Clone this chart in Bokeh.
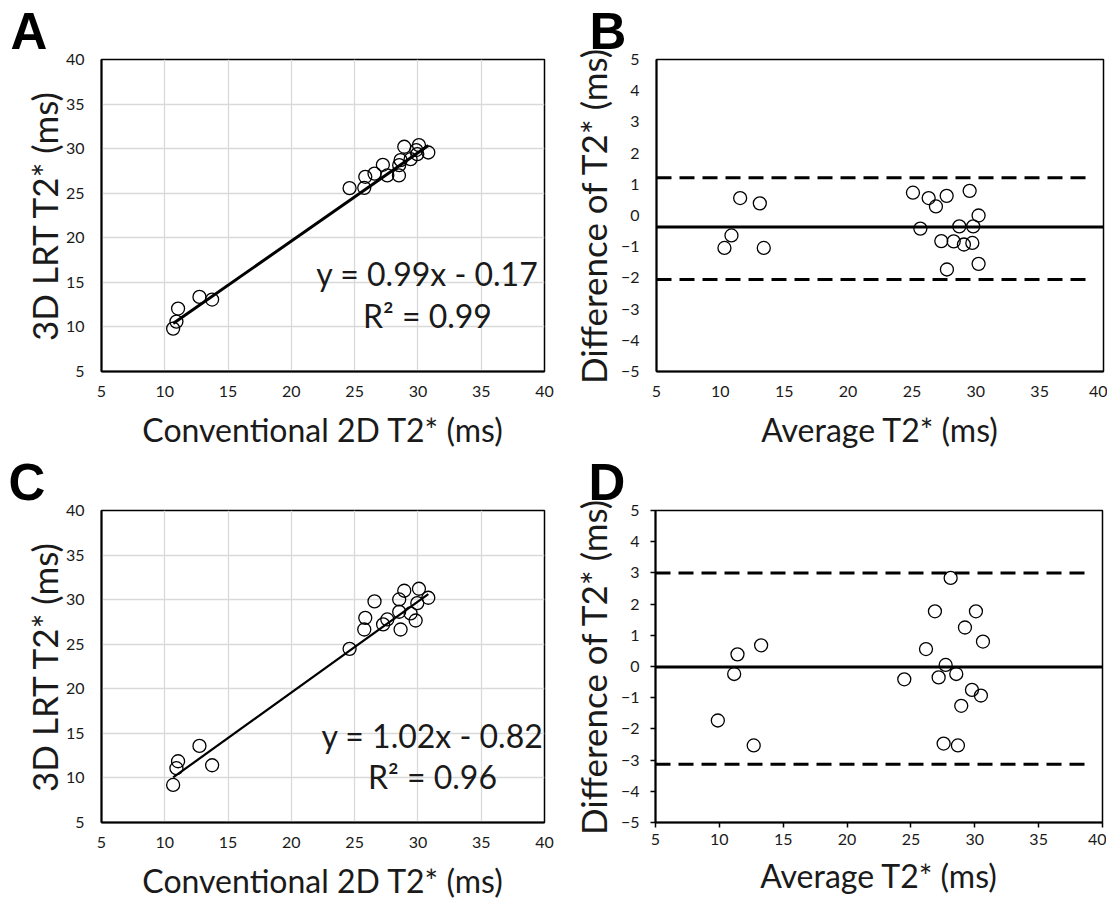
from bokeh.plotting import figure
from bokeh.layouts import row, column
from bokeh.models import Range1d, FixedTicker, Label
from bokeh.embed import file_html
from bokeh.resources import INLINE

# ---------------- data ----------------
# Panel A : Conventional 2D T2* (ms) vs 3D LRT T2* (ms)
conv_2d = [10.66, 10.92, 11.05, 12.74, 13.74, 24.60, 25.76, 25.84, 26.57, 27.23,
           27.58, 28.50, 28.52, 28.63, 28.92, 29.42, 29.87, 29.95, 30.08, 30.82]
lrt_a = [9.81, 10.60, 12.06, 13.37, 13.07, 25.57, 25.60, 26.84, 27.20, 28.19,
         26.99, 26.99, 28.15, 28.71, 30.21, 28.82, 29.84, 29.39, 30.40, 29.57]
# Panel C : Conventional 2D T2* (ms) vs 3D LRT T2* (ms)
conv_2d_c = [10.66, 10.92, 11.05, 12.74, 13.74, 24.60, 25.76, 25.84, 26.57, 27.25,
             27.58, 28.63, 28.52, 28.52, 28.92, 29.42, 29.82, 29.95, 30.08, 30.82]
lrt_c = [9.21, 11.09, 11.87, 13.59, 11.42, 24.48, 26.65, 27.96, 29.80, 27.22,
         27.78, 26.65, 28.64, 30.02, 31.00, 28.45, 27.66, 29.61, 31.22, 30.21]

# Panel B : Bland-Altman
avg_b = [10.32, 10.87, 11.55, 13.09, 13.40, 25.08, 25.66, 26.31, 26.88, 27.30,
         27.72, 27.74, 28.27, 28.71, 29.07, 29.52, 29.73, 29.80, 30.22, 30.22]
diff_b = [-1.04, -0.64, 0.56, 0.39, -1.04, 0.73, -0.42, 0.56, 0.29, -0.82,
          0.63, -1.73, -0.83, -0.35, -0.93, 0.79, -0.88, -0.35, 0.00, -1.55]
mean_b = -0.37
loa_b = [1.21, -2.05]

# Panel D : Bland-Altman
avg_d = [9.88, 11.16, 11.42, 12.69, 13.27, 24.48, 26.18, 26.88, 27.17, 27.56,
         27.72, 28.11, 28.55, 28.68, 28.94, 29.23, 29.78, 30.09, 30.48, 30.64]
diff_d = [-1.73, -0.24, 0.39, -2.53, 0.68, -0.41, 0.56, 1.77, -0.35, -2.47,
          0.05, 2.84, -0.24, -2.53, -1.26, 1.25, -0.75, 1.77, -0.93, 0.80]
mean_d = -0.02
loa_d = [3.00, -3.13]

# regression fits
slope_a, icpt_a = 0.99, -0.17
slope_c, icpt_c = 1.02, -0.82
eq_a = ["y = 0.99x - 0.17", "R\u00b2 = 0.99"]
eq_c = ["y = 1.02x - 0.82", "R\u00b2 = 0.96"]

scatter_ticks = [5, 10, 15, 20, 25, 30, 35, 40]
ba_yticks = [-5, -4, -3, -2, -1, 0, 1, 2, 3, 4, 5]
line_x_range = [5, 40]
loa_x_range = [5, 39.2]

FONT = "Lato"
LETTER_FONT = "Liberation Sans"
TXT = "#1a1a1a"


def style_axes(p, xlabel, ylabel, ticks_out, ytick_standoff, ylab_standoff):
    for ax in (p.xaxis[0], p.yaxis[0]):
        ax.major_label_text_font = FONT
        ax.major_label_text_font_size = "16px"
        ax.major_label_text_color = TXT
        ax.axis_label_text_font = FONT
        ax.axis_label_text_font_style = "normal"
        ax.axis_label_text_color = TXT
        ax.axis_line_color = "black"
        ax.axis_line_width = 2
        ax.minor_tick_line_color = None
        if ticks_out:
            ax.major_tick_line_color = "black"
            ax.major_tick_line_width = 1.5
            ax.major_tick_out = 5
            ax.major_tick_in = 0
        else:
            ax.major_tick_line_color = None
            ax.major_tick_out = 0
            ax.major_tick_in = 0
    p.xaxis.axis_label_text_font_size = "32px"
    p.yaxis.axis_label_text_font_size = "35px"
    p.xaxis.axis_label = xlabel
    p.yaxis.axis_label = ylabel
    p.xaxis.major_label_standoff = 14 if not ticks_out else 6
    p.yaxis.major_label_standoff = ytick_standoff
    p.xaxis.axis_label_standoff = 10 if not ticks_out else 8
    p.yaxis.axis_label_standoff = ylab_standoff
    p.outline_line_color = "black"
    p.outline_line_width = 1.5
    p.outline_line_alpha = 1.0


def add_letter(p, letter, offset):
    p.title.text = letter
    p.title.text_font = LETTER_FONT
    p.title.text_font_size = "51px"
    p.title.text_font_style = "bold"
    p.title.text_color = "black"
    p.title.align = "left"
    p.title.offset = offset
    p.title.standoff = 0


def scatter_panel(xs, ys, slope, icpt, eq, letter, letter_off, eq_pos, top_border, bottom_border, lw):
    p = figure(frame_width=443, frame_height=312, output_backend="svg", toolbar_location=None,
               x_range=Range1d(5, 40), y_range=Range1d(5, 40),
               min_border_left=101, min_border_right=24,
               min_border_top=top_border, min_border_bottom=bottom_border)
    p.xaxis.ticker = FixedTicker(ticks=scatter_ticks)
    p.yaxis.ticker = FixedTicker(ticks=scatter_ticks)
    p.grid.grid_line_color = "#d9d9d9"
    p.grid.grid_line_width = 1.3
    style_axes(p, "Conventional 2D T2* (ms)", "3D LRT T2* (ms)", False, 17, -2)
    add_letter(p, letter, letter_off)
    x0, x1 = min(xs), max(xs)
    p.line([x0, x1], [slope * x0 + icpt, slope * x1 + icpt], line_color="black", line_width=lw)
    p.scatter(xs, ys, size=13, fill_color=None, line_color="black", line_width=1.3)
    for txt, yv in ((eq[0], eq_pos[1]), (eq[1], eq_pos[2])):
        p.add_layout(Label(x=eq_pos[0], y=yv, text=txt, text_font=FONT,
                           text_font_size="32px", text_align="center", text_baseline="middle",
                           text_color=TXT))
    return p


def ba_panel(xs, ys, mean, loa, letter, letter_off, top_border, bottom_border, ticks_out):
    p = figure(frame_width=447, frame_height=312, output_backend="svg", toolbar_location=None,
               x_range=Range1d(5, 40), y_range=Range1d(-5, 5),
               min_border_left=85, min_border_right=4,
               min_border_top=top_border, min_border_bottom=bottom_border)
    p.xaxis.ticker = FixedTicker(ticks=scatter_ticks)
    p.yaxis.ticker = FixedTicker(ticks=ba_yticks)
    p.grid.grid_line_color = None
    style_axes(p, "Average T2* (ms)", "Difference of T2* (ms)", ticks_out,
               17 if not ticks_out else 11, 4)
    add_letter(p, letter, letter_off)
    p.line(line_x_range, [mean, mean], line_color="black", line_width=3)
    for v in loa:
        p.line(loa_x_range, [v, v], line_color="black", line_width=3, line_dash="15 8")
    p.scatter(xs, ys, size=13, fill_color=None, line_color="black", line_width=1.3)
    return p


pa = scatter_panel(conv_2d, lrt_a, slope_a, icpt_a, eq_a, "A", -91,
                   (30.75, 16.0, 11.28), 59, 79, 3)
pb = ba_panel(avg_b, diff_b, mean_b, loa_b, "B", -67, 59, 79, False)
pc = scatter_panel(conv_2d_c, lrt_c, slope_c, icpt_c, eq_c, "C", -93,
                   (31.15, 14.76, 10.16), 56, 72, 2.2)
pd = ba_panel(avg_d, diff_d, mean_d, loa_d, "D", -67, 56, 72, True)

layout = column(row(pa, pb), row(pc, pd))
open("out.html", "w").write(file_html(layout, INLINE))
